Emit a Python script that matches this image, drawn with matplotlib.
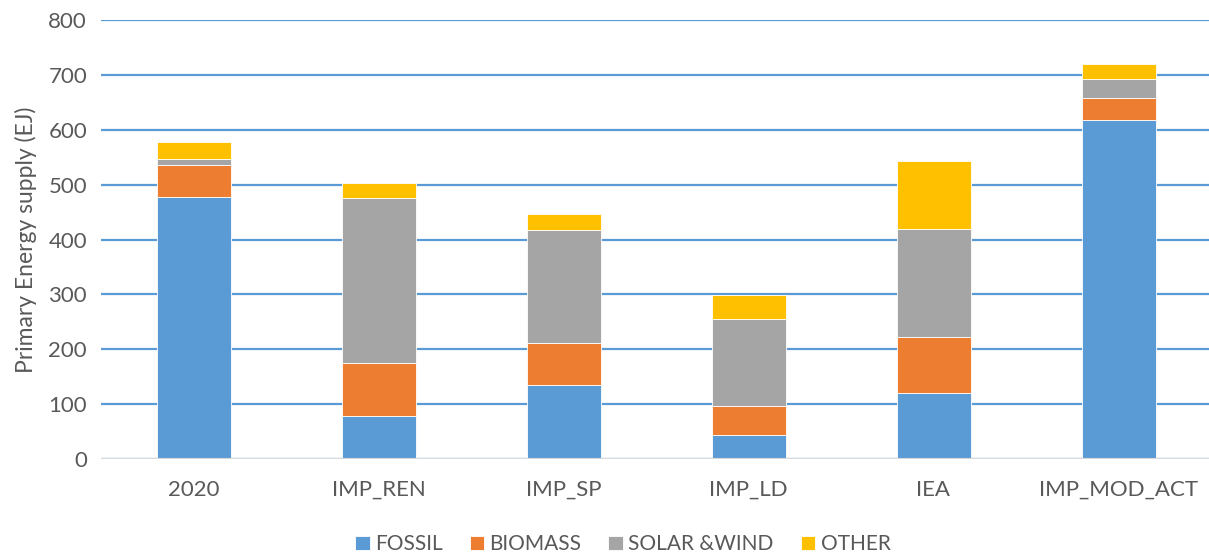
import matplotlib.pyplot as plt
import numpy as np

# values (EJ)
scenarios = ["2020", "IMP_REN", "IMP_SP", "IMP_LD", "IEA", "IMP_MOD_ACT"]
fossil = [477, 78, 134, 43, 120, 618]
biomass = [58, 97, 77, 53, 102, 39]
solar_wind = [11, 300, 207, 160, 198, 36]
other = [32, 28, 29, 43, 123, 27]

series = [
    ("FOSSIL", fossil, "#5B9BD5"),
    ("BIOMASS", biomass, "#ED7D31"),
    ("SOLAR &WIND", solar_wind, "#A5A5A5"),
    ("OTHER", other, "#FFC000"),
]

plt.rcParams['font.family'] = ['Lato', 'DejaVu Sans']
text_color = "#595959"

fig = plt.figure(figsize=(12.09, 5.54), dpi=100)
ax = fig.add_axes([101 / 1209, 95 / 554, 1110 / 1209, 439 / 554])

x = np.arange(len(scenarios))
bottom = np.zeros(len(scenarios))
for name, vals, color in series:
    ax.bar(x, vals, width=0.4, bottom=bottom, color=color, label=name,
           edgecolor="white", linewidth=0.6, zorder=3)
    bottom += np.array(vals)

ax.set_xlim(-0.5, len(scenarios) - 0.5)
ax.set_ylim(0, 800)
ax.set_yticks(range(0, 801, 100))
ax.set_xticks(x)
ax.set_xticklabels(scenarios)

ax.grid(axis="y", color="#5B9BD5", linewidth=1.6, zorder=0)
ax.axhline(0, color="#D9D9D9", linewidth=1.5, zorder=4)
for s in ax.spines.values():
    s.set_visible(False)
ax.tick_params(length=0, labelsize=16, colors=text_color, pad=10)
ax.tick_params(axis="x", pad=15)

ax.set_ylabel("Primary Energy supply (EJ)", fontsize=16.5, color=text_color, labelpad=8)

ax.legend(loc="lower center", bbox_to_anchor=(0.47, -0.26), ncol=4, frameon=False,
          fontsize=15, labelcolor=text_color, handlelength=0.7, handleheight=0.7,
          handletextpad=0.25, columnspacing=1.3)

fig.savefig("out.png", dpi=100)
